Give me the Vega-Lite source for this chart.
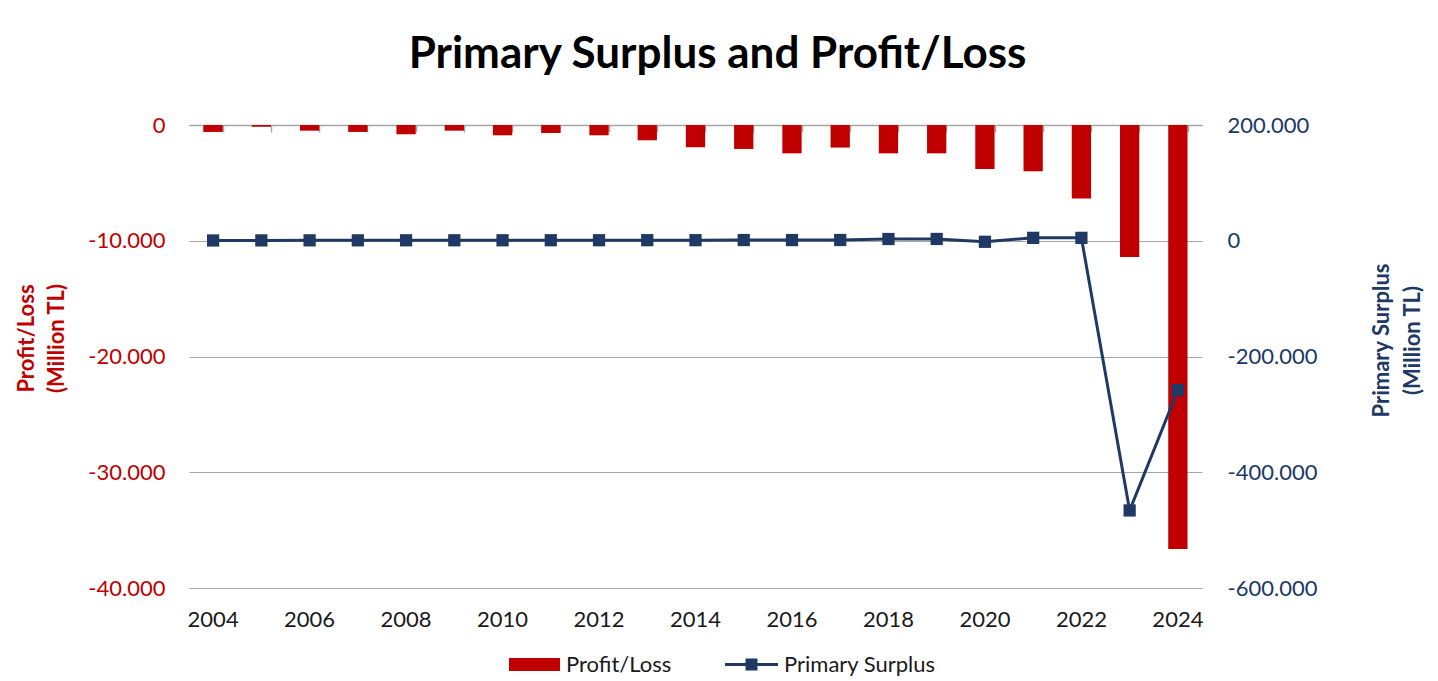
{
  "$schema": "https://vega.github.io/schema/vega-lite/v6.json",
  "width": 1013,
  "height": 463,
  "autosize": {"type": "none"},
  "padding": {"left": 189, "top": 125, "right": 236, "bottom": 93},
  "background": "white",
  "config": {"font": "Lato", "view": {"stroke": null}},
  "title": {"text": "Primary Surplus and Profit/Loss", "fontSize": 44, "fontWeight": "bold", "color": "#000000", "anchor": "middle", "frame": "group", "dx": 22, "offset": 37, "font": "Lato"},
  "data": {"values": [
    {"year": 2004, "profit": -600, "surplus": 500},
    {"year": 2005, "profit": -150, "surplus": 600},
    {"year": 2006, "profit": -490, "surplus": 700},
    {"year": 2007, "profit": -600, "surplus": 700},
    {"year": 2008, "profit": -800, "surplus": 800},
    {"year": 2009, "profit": -490, "surplus": 800},
    {"year": 2010, "profit": -890, "surplus": 800},
    {"year": 2011, "profit": -690, "surplus": 900},
    {"year": 2012, "profit": -890, "surplus": 900},
    {"year": 2013, "profit": -1320, "surplus": 1000},
    {"year": 2014, "profit": -1930, "surplus": 1000},
    {"year": 2015, "profit": -2070, "surplus": 1200},
    {"year": 2016, "profit": -2450, "surplus": 1200},
    {"year": 2017, "profit": -1950, "surplus": 1300},
    {"year": 2018, "profit": -2450, "surplus": 3000},
    {"year": 2019, "profit": -2450, "surplus": 3100},
    {"year": 2020, "profit": -3800, "surplus": -1800},
    {"year": 2021, "profit": -4000, "surplus": 5000},
    {"year": 2022, "profit": -6360, "surplus": 5000},
    {"year": 2023, "profit": -11400, "surplus": -466000},
    {"year": 2024, "profit": -36630, "surplus": -258000}
  ]},
  "layer": [
    {
      "mark": {"type": "bar"},
      "encoding": {
        "x": {"field": "year", "type": "ordinal", "scale": {"paddingInner": 0.6, "paddingOuter": 0.3},
          "axis": {"orient": "bottom", "values": [2004, 2006, 2008, 2010, 2012, 2014, 2016, 2018, 2020, 2022, 2024], "domain": false, "ticks": false, "grid": false, "labelFontSize": 22, "labelColor": "#1a1a1a", "labelPadding": 21, "labelAngle": 0, "title": null}},
        "y": {"field": "profit", "type": "quantitative", "scale": {"domain": [-40000, 0], "nice": false},
          "axis": {"orient": "left", "values": [-40000, -30000, -20000, -10000, 0], "grid": true, "gridColor": "#A6A6A6", "gridWidth": 1.2, "domain": false, "ticks": false,
            "labelColor": "#C00000", "labelFontSize": 22, "labelPadding": 24,
            "labelExpr": "replace(replace(format(datum.value, ','), ',', '.'), '−', '-')",
            "title": ["Profit/Loss", "(Million TL)"], "titleColor": "#C00000", "titleFontSize": 22, "titleFontWeight": "bold", "titleAngle": -90, "titleX": -163, "titleY": 213, "titleAlign": "center", "titleBaseline": "middle", "titleLineHeight": 30}},
        "fill": {"datum": "Profit/Loss", "scale": {"range": ["#C00000"]},
          "legend": {"orient": "none", "legendX": 320, "legendY": 514, "direction": "horizontal", "title": null, "padding": 0,
            "symbolType": "M-1,-0.255H1V0.255H-1Z", "symbolSize": 2601, "symbolStrokeWidth": 0,
            "labelFontSize": 22, "labelColor": "#1a1a1a", "labelOffset": 6}}
      }
    },
    {
      "mark": {"type": "line", "strokeWidth": 3},
      "encoding": {
        "x": {"field": "year", "type": "ordinal", "scale": {"paddingInner": 0.6, "paddingOuter": 0.3},
          "axis": {"orient": "top", "labels": false, "ticks": true, "tickSize": -7, "tickBand": "extent", "tickColor": "#A6A6A6", "tickWidth": 1.5, "domainColor": "#A6A6A6", "domainWidth": 1.5, "grid": false, "title": null}},
        "y": {"field": "surplus", "type": "quantitative", "scale": {"domain": [-600000, 200000], "nice": false},
          "axis": {"orient": "right", "values": [-600000, -400000, -200000, 0, 200000], "grid": false, "domain": false, "ticks": false,
            "labelColor": "#203864", "labelFontSize": 22, "labelPadding": 25,
            "labelExpr": "replace(replace(format(datum.value, ','), ',', '.'), '−', '-')",
            "title": ["Primary Surplus", "(Million TL)"], "titleColor": "#203864", "titleFontSize": 22, "titleFontWeight": "bold", "titleAngle": -90, "titleX": 179, "titleY": 215, "titleAlign": "center", "titleBaseline": "middle", "titleLineHeight": 31}},
        "stroke": {"datum": "Primary Surplus", "scale": {"range": ["#203864"]},
          "legend": {"orient": "none", "legendX": 536, "legendY": 513, "direction": "horizontal", "title": null, "padding": 0,
            "symbolType": "M-1,-0.057H1V0.057H-1Z M-0.226,-0.226H0.226V0.226H-0.226Z", "symbolSize": 2809,
            "labelFontSize": 22, "labelColor": "#1a1a1a", "labelOffset": 6,
            "encode": {"symbols": {"update": {"fill": {"value": "#203864"}, "stroke": {"value": "#203864"}, "strokeWidth": {"value": 0}, "opacity": {"value": 1}}}}}}
      }
    },
    {
      "mark": {"type": "point", "shape": "square", "filled": true, "size": 150, "color": "#203864", "opacity": 1},
      "encoding": {
        "x": {"field": "year", "type": "ordinal", "axis": null},
        "y": {"field": "surplus", "type": "quantitative", "scale": {"domain": [-600000, 200000], "nice": false}, "axis": null}
      }
    }
  ],
  "resolve": {"scale": {"y": "independent"}}
}
